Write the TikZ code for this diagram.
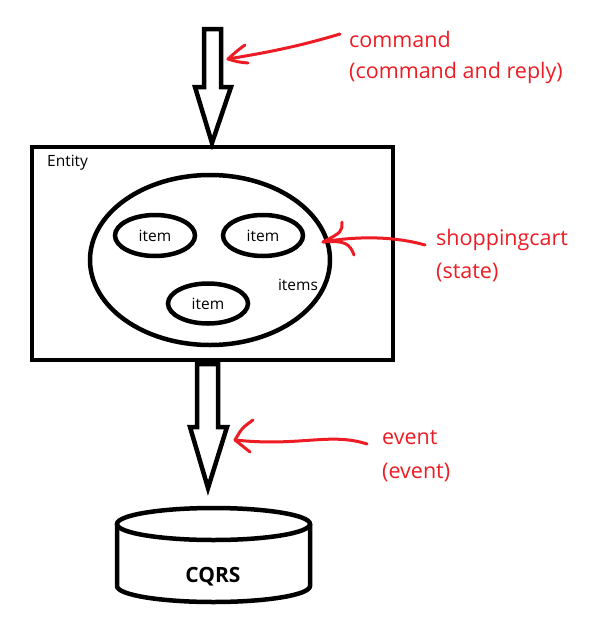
\documentclass[tikz,border=0pt]{standalone}
\usepackage{fontspec}
\setmainfont{Open Sans}
\usetikzlibrary{shapes.geometric}
\definecolor{pred}{RGB}{237,28,36}
\begin{document}
\begin{tikzpicture}[x=1pt,y=-1pt,
  blk/.style={line width=4.5pt, line join=miter, black},
  itm/.style={ellipse, draw, line width=4.5pt, inner sep=0pt, font=\fontsize{15.5}{18}\selectfont},
  redlbl/.style={text=pred, anchor=west, inner sep=0pt, font=\fontsize{21.5}{24}\selectfont},
  redarr/.style={draw=pred, line width=3pt, line cap=round, line join=round},
  blklbl/.style={inner sep=0pt, font=\fontsize{15.5}{18}\selectfont}]
\useasboundingbox (0,0) rectangle (602,619);
% entity box
\node[draw, line width=4.5pt, minimum width=361pt, minimum height=213pt, inner sep=0pt] (entity) at (212.5,253.5) {};
\node[blklbl, anchor=west] (entlbl) at (47,163) {Entity};
% shopping cart
\node[ellipse, draw, line width=4.5pt, minimum width=240pt, minimum height=170pt, inner sep=0pt] (cart) at (210,260) {};
\node[itm, minimum width=80pt, minimum height=41pt] (i1) at (155,235.5) {item};
\node[itm, minimum width=80pt, minimum height=41pt] (i2) at (263,235.5) {item};
\node[itm, minimum width=80pt, minimum height=40pt] (i3) at (208,303.5) {item};
\node[blklbl] (itemslbl) at (298,285) {items};
% top block arrow
\coordinate (ctip) at (212,143);
\draw[blk] (204,29) -- (221,29) -- (221,87) -- (231,87) -- (ctip) -- (195,87) -- (204,87) -- cycle;
% bottom block arrow
\coordinate (etip) at (208,488);
\draw[blk] (197,364) -- (218,364) -- (218,427) -- (227,427) -- (etip) -- (190,427) -- (197,427) -- cycle;
% cylinder
\coordinate (cyl) at (213.5,524);
\draw[line width=4.5pt] (cyl) ellipse[x radius=96.5, y radius=16];
\draw[line width=4.5pt] (117,524) -- (117,586) arc[start angle=180, end angle=0, x radius=96.5, y radius=16] -- (310,524);
\node[inner sep=0pt, font=\fontsize{21}{24}\selectfont\bfseries] (cqrs) at (213,577) {CQRS};
% red labels
\node[redlbl] (cmd) at (349,39) {command};
\node[redlbl] (cmd2) at (349,73) {(command and reply)};
\node[redlbl] (sc) at (436,240) {shoppingcart};
\node[redlbl] (sc2) at (436,273) {(state)};
\node[redlbl] (ev) at (382,438) {event};
\node[redlbl] (ev2) at (382,473) {(event)};
% red arrows
\coordinate (ca) at (228,59);
\draw[redarr] ([xshift=-9pt,yshift=5pt]cmd.west) .. controls (300,46) and (270,52) .. (ca);
\draw[redarr] (245,45) .. controls (238,50) .. (ca) .. controls (238,62) .. (248,63);
\coordinate (sa) at (323,242);
\draw[redarr] ([xshift=-11pt,yshift=-5pt]sc.west) .. controls (390,235) and (350,237) .. (sa);
\draw[redarr] (342,222) .. controls (342,232) .. (sa) .. controls (345,240) and (350,244) .. (354,255);
\coordinate (ea) at (235,440);
\draw[redarr] ([xshift=-15pt,yshift=-6pt]ev.west) .. controls (330,432) and (300,447) .. (ea);
\draw[redarr] (253,420) .. controls (242,428) .. (ea) .. controls (242,446) .. (250,452);
\end{tikzpicture}
\end{document}
